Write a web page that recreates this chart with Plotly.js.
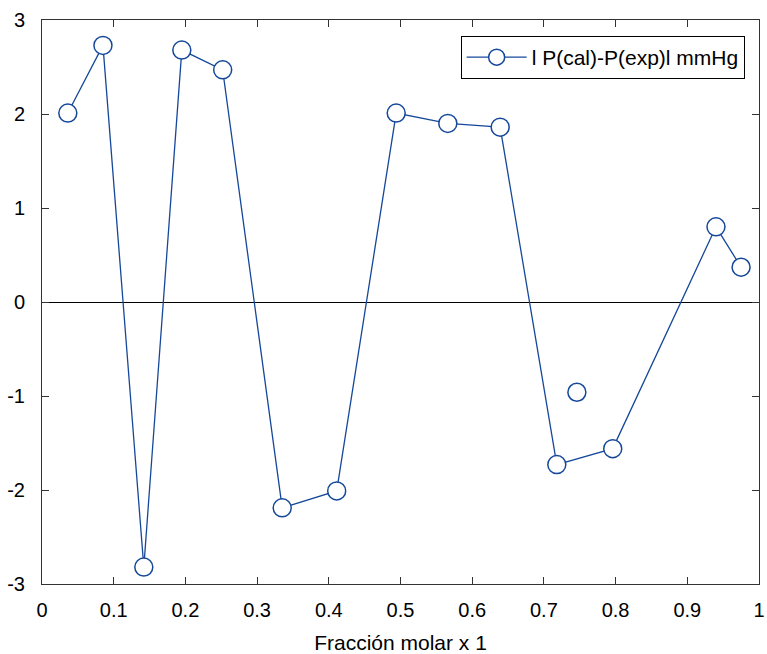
<!DOCTYPE html>
<html>
<head>
<meta charset="utf-8">
<script src="https://cdn.plot.ly/plotly-3.0.1.min.js"></script>
<style>html,body{margin:0;padding:0;background:#fff;}#chart{width:767px;height:654px;}</style>
</head>
<body>
<div id="chart"></div>
<script>
const xLine = [0.036, 0.085, 0.142, 0.195, 0.252, 0.335, 0.411, 0.494, 0.566, 0.639, 0.718, 0.796, 0.940, 0.975];
const yLine = [2.01, 2.73, -2.82, 2.68, 2.47, -2.19, -2.01, 2.01, 1.90, 1.86, -1.73, -1.56, 0.80, 0.37];
const xLone = [0.746];
const yLone = [-0.96];
const xTicks = [0, 0.1, 0.2, 0.3, 0.4, 0.5, 0.6, 0.7, 0.8, 0.9, 1];
const xTickText = ["0", "0.1", "0.2", "0.3", "0.4", "0.5", "0.6", "0.7", "0.8", "0.9", "1"];
const yTicks = [-3, -2, -1, 0, 1, 2, 3];
const yTickText = ["-3", "-2", "-1", "0", "1", "2", "3"];
const seriesName = "l P(cal)-P(exp)l mmHg";

const blue = "#16489a";
const mk = {symbol: "circle", size: 18, color: "#ffffff", line: {color: blue, width: 1.5}};
const traces = [
  {x: xLine, y: yLine, mode: "lines+markers", name: seriesName,
   line: {color: blue, width: 1.3}, marker: mk},
  {x: xLone, y: yLone, mode: "markers", showlegend: false, marker: mk}
];
const font = {family: "Liberation Sans, Arial, sans-serif", size: 20, color: "#000"};
const bigFont = {family: "Liberation Sans, Arial, sans-serif", size: 21, color: "#000"};
const axisCommon = {
  showgrid: false, showline: true, linecolor: "#333", linewidth: 1,
  mirror: "ticks", ticks: "inside", ticklen: 7, tickcolor: "#333", tickwidth: 1,
  tickfont: font
};
const layout = {
  width: 767, height: 654,
  margin: {l: 42, r: 8, t: 20, b: 70},
  paper_bgcolor: "#fff", plot_bgcolor: "#fff",
  font: font,
  showlegend: true,
  legend: {x: 0.980, y: 0.9716, xanchor: "right", yanchor: "top",
    bordercolor: "#000", borderwidth: 1, bgcolor: "#fff", font: bigFont,
    itemwidth: 60},
  xaxis: Object.assign({}, axisCommon, {
    range: [0, 1], tickvals: xTicks, ticktext: xTickText, zeroline: false,
    ticklabelstandoff: 8,
    title: {text: "Fracción molar x 1", font: bigFont, standoff: 15}
  }),
  yaxis: Object.assign({}, axisCommon, {
    range: [-3, 3], tickvals: yTicks, ticktext: yTickText,
    zeroline: true, zerolinecolor: "#000", zerolinewidth: 1,
    ticklabelstandoff: 12
  })
};
Plotly.newPlot("chart", traces, layout, {displayModeBar: false, staticPlot: true});
</script>
</body>
</html>
